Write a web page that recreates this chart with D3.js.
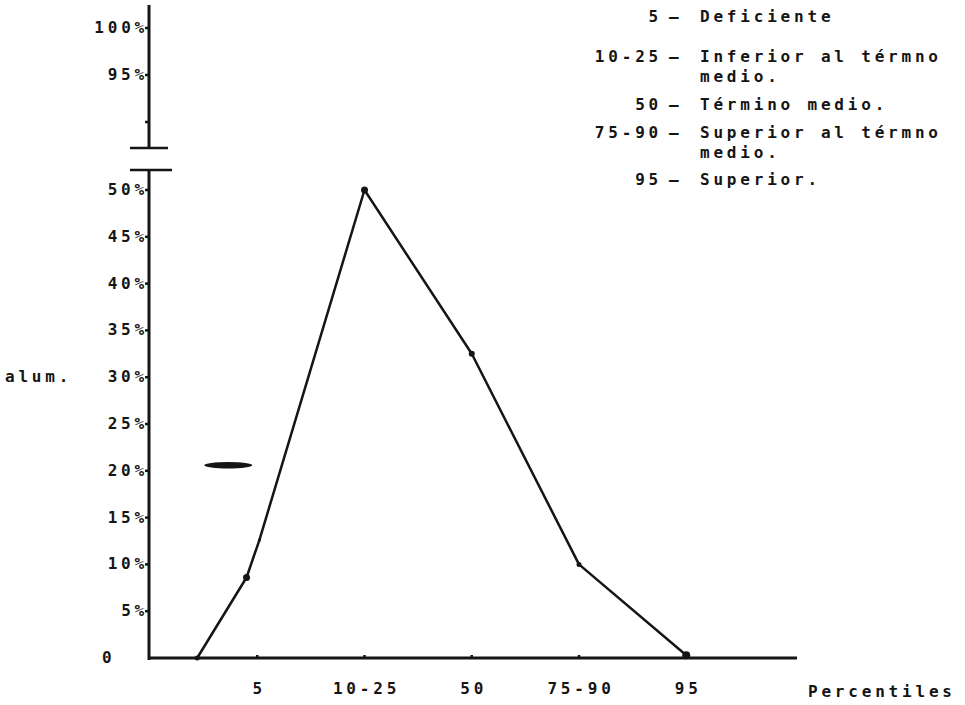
<!DOCTYPE html>
<html lang="es">
<head>
<meta charset="UTF-8">
<title>Percentiles</title>
<style>
  body { margin: 0; background: #fff; overflow: hidden; }
  svg text {
    font-family: "DejaVu Sans Mono", monospace;
    font-size: 16px;
    font-weight: bold;
    letter-spacing: 3.8px;
    fill: #151515;
  }
</style>
</head>
<body>
<svg id="chart" width="965" height="705"></svg>
<script src="https://cdn.jsdelivr.net/npm/d3@7/dist/d3.min.js"></script>
<script>
// categorias del eje x (percentiles)
const categories = ["5", "10-25", "50", "75-90", "95"];
// puntos de la curva: posicion (indice de categoria) y % de alumnos
const pointPos = [-0.56, -0.1, 0.02, 1, 2, 3, 4];
const pointVal = [0, 8.6, 12.6, 50, 32.5, 10, 0.3];
const dotSize  = [2.5, 3.5, 1.5, 3.5, 3, 2.5, 4];
// ticks eje y
const lowTicks = [0, 5, 10, 15, 20, 25, 30, 35, 40, 45, 50];
const highTicks = [90, 95, 100];
// leyenda
const legendKeys = ["5", "10-25", "50", "75-90", "95"];
const legendLines = [
  ["Deficiente"],
  ["Inferior al térmno", "medio."],
  ["Término medio."],
  ["Superior al térmno", "medio."],
  ["Superior."]
];

const svg = d3.select("#chart");
const ink = "#151515";

const x = d3.scaleLinear().domain([-1, 5]).range([150, 793.5]);
const y = d3.scaleLinear().domain([0, 50]).range([658, 190]);
const yTop = d3.scaleLinear().domain([90, 100]).range([122, 28]);
const axisX = 149;

// eje y (tramo inferior y superior, con corte)
svg.append("line").attr("x1", axisX).attr("x2", axisX)
  .attr("y1", 170).attr("y2", 660)
  .attr("stroke", ink).attr("stroke-width", 3);
svg.append("line").attr("x1", axisX).attr("x2", axisX)
  .attr("y1", 5).attr("y2", 148)
  .attr("stroke", ink).attr("stroke-width", 3);
svg.append("line").attr("x1", 130).attr("x2", 168)
  .attr("y1", 148).attr("y2", 148)
  .attr("stroke", ink).attr("stroke-width", 2.5);
svg.append("line").attr("x1", 130).attr("x2", 172)
  .attr("y1", 170).attr("y2", 170)
  .attr("stroke", ink).attr("stroke-width", 2.5);

// eje x
svg.append("line").attr("x1", axisX - 1).attr("x2", 797)
  .attr("y1", y(0)).attr("y2", y(0))
  .attr("stroke", ink).attr("stroke-width", 3);

// ticks y
svg.selectAll(".ty").data(lowTicks.slice(1)).enter().append("line")
  .attr("x1", axisX - 4).attr("x2", axisX)
  .attr("y1", d => y(d)).attr("y2", d => y(d))
  .attr("stroke", ink).attr("stroke-width", 2.5);
svg.selectAll(".tyt").data(highTicks).enter().append("line")
  .attr("x1", axisX - 4).attr("x2", axisX)
  .attr("y1", d => yTop(d)).attr("y2", d => yTop(d))
  .attr("stroke", ink).attr("stroke-width", 2.5);

// etiquetas y
svg.selectAll(".ly").data(lowTicks).enter().append("text")
  .attr("x", d => d === 0 ? 102 : 148)
  .attr("y", d => y(d) + 5)
  .attr("text-anchor", d => d === 0 ? "start" : "end")
  .text(d => d === 0 ? "0" : d + "%");
svg.selectAll(".lyt").data(highTicks.slice(1)).enter().append("text")
  .attr("x", 148)
  .attr("y", d => yTop(d) + 5)
  .attr("text-anchor", "end")
  .text(d => d + "%");

svg.append("text").attr("x", 5).attr("y", y(30) + 5).text("alum.");

// ticks y etiquetas x
svg.selectAll(".tx").data(categories).enter().append("line")
  .attr("x1", (d, i) => x(i)).attr("x2", (d, i) => x(i))
  .attr("y1", y(0) - 3).attr("y2", y(0))
  .attr("stroke", ink).attr("stroke-width", 2.5);
svg.selectAll(".lx").data(categories).enter().append("text")
  .attr("x", (d, i) => x(i) + 2)
  .attr("y", 694)
  .attr("text-anchor", "middle")
  .text(d => d);
svg.append("text").attr("x", 808).attr("y", 697).text("Percentiles");

// mancha de tinta
svg.append("ellipse")
  .attr("cx", x(-0.27)).attr("cy", y(20.6))
  .attr("rx", 24).attr("ry", 3.2)
  .attr("fill", ink);

// curva
const pts = pointPos.map((p, i) => [x(p), y(pointVal[i])]);
svg.append("path")
  .attr("d", d3.line()(pts))
  .attr("fill", "none")
  .attr("stroke", ink)
  .attr("stroke-width", 2.5)
  .attr("stroke-linejoin", "round");
svg.selectAll(".pt").data(pts).enter().append("circle")
  .attr("cx", d => d[0]).attr("cy", d => d[1])
  .attr("r", (d, i) => dotSize[i])
  .attr("fill", ink);

// leyenda
const legendY = [22, 62, 82, 110, 138, 158, 185];
let row = 0;
legendKeys.forEach((k, i) => {
  const yy = legendY[row];
  svg.append("text").attr("x", 662).attr("y", yy)
    .attr("text-anchor", "end").text(k);
  svg.append("text").attr("x", 669).attr("y", yy).text("–");
  legendLines[i].forEach(t => {
    svg.append("text").attr("x", 700).attr("y", legendY[row]).text(t);
    row++;
  });
});
</script>
</body>
</html>
